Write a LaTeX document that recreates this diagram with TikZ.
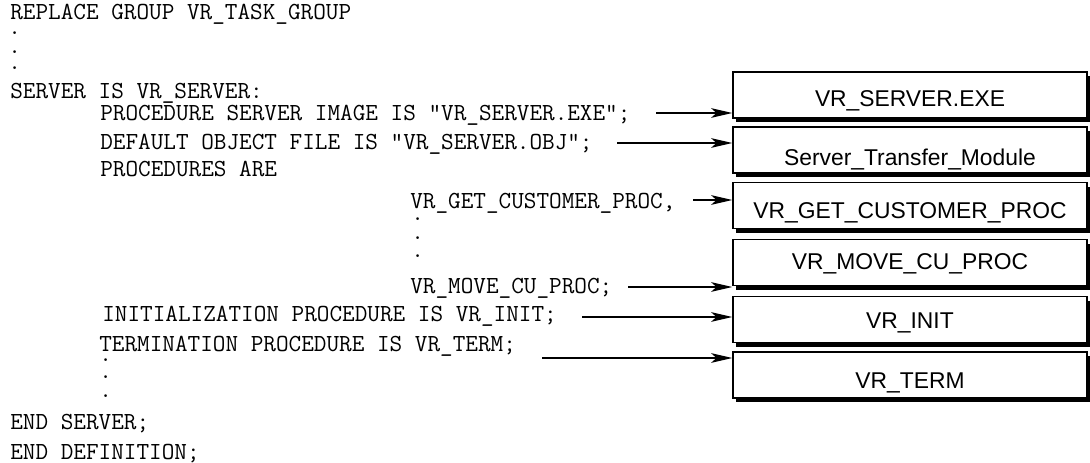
\documentclass[tikz,border=0pt]{standalone}
\usepackage{fontspec}
\setmainfont{Liberation Sans}
\setsansfont{Liberation Sans}
\usetikzlibrary{arrows.meta,shadows}

\tikzset{
  code/.style={anchor=base west, inner sep=0pt, font=\fontsize{13.95}{16}\selectfont\ttfamily},
  modbox/.style={draw, line width=0.9pt, fill=white, minimum width=7.08cm, minimum height=0.92cm,
    inner sep=0pt, text height=13.3pt, text depth=0pt, font=\fontsize{13}{15}\selectfont\sffamily,
    drop shadow={shadow xshift=1.7pt, shadow yshift=-2.3pt, opacity=1, fill=black}},
  feed/.style={line width=0.6pt, -{Stealth[length=12pt,width=5.5pt,inset=3pt]}}
}

\begin{document}
\begin{tikzpicture}[x=0.02cm, y=-0.02cm]
  \useasboundingbox (0,0) rectangle (1090,463);

  % source text
  \node[code] (grp) at (10,19) {REPLACE GROUP VR\_TASK\_GROUP};
  \foreach \i/\y in {1/34, 2/53, 3/70}
    \node[code] (gdot\i) at (8,\y) {.};
  \node[code] (srv) at (10,98) {SERVER IS VR\_SERVER:};
  \node[code] (img) at (100,120) {PROCEDURE SERVER IMAGE IS "VR\_SERVER.EXE";};
  \node[code] (obj) at (100,149) {DEFAULT OBJECT FILE IS "VR\_SERVER.OBJ";};
  \node[code] (procs) at (100,176) {PROCEDURES ARE};
  \node[code] (getc) at (410,208) {VR\_GET\_CUSTOMER\_PROC,};
  \foreach \i/\y in {1/220, 2/239, 3/257}
    \node[code] (pdot\i) at (411,\y) {.};
  \node[code] (movec) at (410,293) {VR\_MOVE\_CU\_PROC;};
  \node[code] (init) at (102,321) {INITIALIZATION PROCEDURE IS VR\_INIT;};
  \node[code] (term) at (99,351) {TERMINATION PROCEDURE IS VR\_TERM;};
  \foreach \i/\y in {1/361, 2/378, 3/397}
    \node[code] (tdot\i) at (99,\y) {.};
  \node[code] (endsrv) at (10,429) {END SERVER;};
  \node[code] (enddef) at (10,459) {END DEFINITION;};

  % modules
  \node[modbox] (b1) at (910,95) {VR\_SERVER.EXE};
  \node[modbox, text height=17.3pt] (b2) at (910,150) {Server\_Transfer\_Module};
  \node[modbox, text height=14.4pt] (b3) at (910,205.5) {VR\_GET\_CUSTOMER\_PROC};
  \node[modbox, text height=7.6pt] (b4) at (910,262.5) {VR\_MOVE\_CU\_PROC};
  \node[modbox, text height=9.9pt] (b5) at (910,319.5) {VR\_INIT};
  \node[modbox, text height=15pt] (b6) at (910,375) {VR\_TERM};

  % arrows
  \coordinate (s1) at (656,113);
  \coordinate (s2) at (617,143);
  \coordinate (s3) at (693,200);
  \coordinate (s4) at (628,287);
  \coordinate (s5) at (582,317);
  \coordinate (s6) at (542,358);
  \draw[feed] (s1) -- (s1 -| b1.west);
  \draw[feed] (s2) -- (s2 -| b2.west);
  \draw[feed] (s3) -- (s3 -| b3.west);
  \draw[feed] (s4) -- (s4 -| b4.west);
  \draw[feed] (s5) -- (s5 -| b5.west);
  \draw[feed] (s6) -- (s6 -| b6.west);
\end{tikzpicture}
\end{document}
